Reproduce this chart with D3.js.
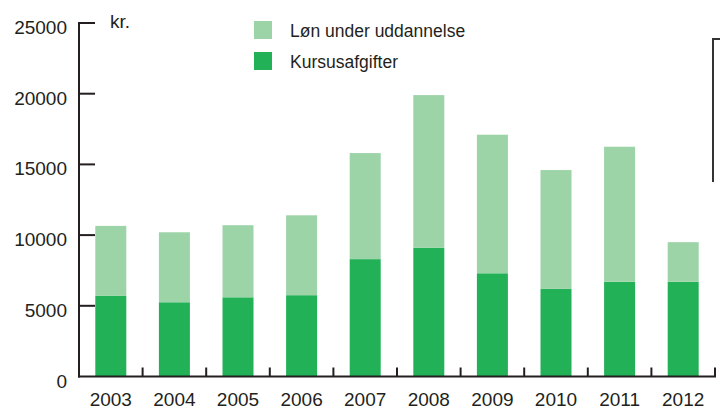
<!DOCTYPE html>
<html>
<head>
<meta charset="utf-8">
<script src="https://cdn.jsdelivr.net/npm/d3@7"></script>
<style>
    body { margin: 0; background: #fff; }
    svg { display: block; font-family: "Liberation Sans", Arial, sans-serif; }
</style>
</head>
<body>
<svg id="chart" width="720" height="409"></svg>
<script>
// data
var years = ['2003', '2004', '2005', '2006', '2007', '2008', '2009', '2010', '2011', '2012'];
var kursusafgifter = [5700, 5250, 5600, 5750, 8300, 9100, 7300, 6200, 6700, 6700];
var loen = [4950, 4950, 5100, 5650, 7500, 10800, 9800, 8400, 9550, 2800];
var yTicks = [0, 5000, 10000, 15000, 20000, 25000];

var seriesNames = ['Kursusafgifter', 'Løn under uddannelse'];
var colors = { 'Kursusafgifter': '#22b157', 'Løn under uddannelse': '#9cd3a7' };
var ink = '#231f20';

var svg = d3.select('#chart');

var x = d3.scaleBand().domain(years).range([79, 715]);
var y = d3.scaleLinear().domain([0, 25000]).range([376.5, 23]);
var barWidth = 31;

// stack table built from the arrays
var rows = years.map(function (yr, i) {
    return { year: yr, 'Kursusafgifter': kursusafgifter[i], 'Løn under uddannelse': loen[i] };
});
var stacked = d3.stack().keys(seriesNames)(rows);

svg.selectAll('g.series')
    .data(stacked)
    .enter().append('g')
    .attr('class', 'series')
    .attr('fill', function (d) { return colors[d.key]; })
    .selectAll('rect')
    .data(function (d) { return d; })
    .enter().append('rect')
    .attr('x', function (d) { return x(d.data.year) + x.bandwidth() / 2 - barWidth / 2; })
    .attr('y', function (d) { return y(d[1]); })
    .attr('width', barWidth)
    .attr('height', function (d) { return y(d[0]) - y(d[1]); });

// y axis
var yAxis = svg.append('g');
yAxis.append('line')
    .attr('x1', 79).attr('x2', 79)
    .attr('y1', y(25000) - 1).attr('y2', y(0) + 1)
    .attr('stroke', ink).attr('stroke-width', 2);
yAxis.selectAll('line.tick')
    .data(yTicks.filter(function (v) { return v > 0; }))
    .enter().append('line')
    .attr('class', 'tick')
    .attr('x1', 79).attr('x2', 95)
    .attr('y1', function (d) { return y(d); })
    .attr('y2', function (d) { return y(d); })
    .attr('stroke', ink).attr('stroke-width', 2);
yAxis.selectAll('text')
    .data(yTicks)
    .enter().append('text')
    .attr('x', 67)
    .attr('y', function (d) { return y(d) + 11; })
    .attr('text-anchor', 'end')
    .attr('font-size', 19)
    .attr('fill', ink)
    .text(function (d) { return d; });

svg.append('text')
    .attr('x', 110).attr('y', 28)
    .attr('font-size', 19)
    .attr('fill', ink)
    .text('kr.');

// x axis
var xAxis = svg.append('g');
xAxis.append('line')
    .attr('x1', 78).attr('x2', 716)
    .attr('y1', y(0)).attr('y2', y(0))
    .attr('stroke', ink).attr('stroke-width', 2);
xAxis.selectAll('line.tick')
    .data(years)
    .enter().append('line')
    .attr('class', 'tick')
    .attr('x1', function (d) { return x(d) + x.bandwidth(); })
    .attr('x2', function (d) { return x(d) + x.bandwidth(); })
    .attr('y1', y(0)).attr('y2', y(0) - 9)
    .attr('stroke', ink).attr('stroke-width', 2);
xAxis.selectAll('text')
    .data(years)
    .enter().append('text')
    .attr('x', function (d) { return x(d) + x.bandwidth() / 2; })
    .attr('y', 406)
    .attr('text-anchor', 'middle')
    .attr('font-size', 19)
    .attr('fill', ink)
    .text(function (d) { return d; });

// legend
var legend = svg.selectAll('g.legend')
    .data(seriesNames.slice().reverse())
    .enter().append('g')
    .attr('class', 'legend')
    .attr('transform', function (d, i) { return 'translate(254,' + (21 + i * 31) + ')'; });
legend.append('rect')
    .attr('width', 18).attr('height', 18)
    .attr('fill', function (d) { return colors[d]; });
legend.append('text')
    .attr('x', 36).attr('y', 16)
    .attr('font-size', 17.5)
    .attr('fill', ink)
    .text(function (d) { return d; });

// bracket cut off at the right edge
svg.append('path')
    .attr('d', 'M713,182V39H720')
    .attr('fill', 'none')
    .attr('stroke', '#333')
    .attr('stroke-width', 2);
</script>
</body>
</html>
